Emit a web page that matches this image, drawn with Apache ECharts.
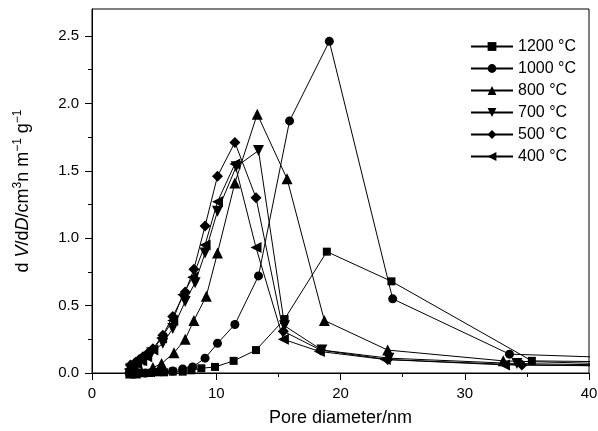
<!DOCTYPE html>
<html>
<head>
<meta charset="utf-8">
<script src="https://cdn.jsdelivr.net/npm/echarts@6/dist/echarts.min.js"></script>
<style>
  html, body { margin: 0; padding: 0; background: #fff; }
  #chart { width: 598px; height: 431px; }
</style>
</head>
<body>
<div id="chart"></div>
<script>
// pore diameter (nm) and dV/dD for each calcination temperature
const names = ['1200 °C', '1000 °C', '800 °C', '700 °C', '500 °C', '400 °C'];

const x1200 = [3.0, 3.3, 3.7, 4.1, 4.6, 5.2, 5.8, 6.5, 7.3, 8.0, 8.8, 9.9, 11.4, 13.2, 15.5, 18.9, 24.1, 35.4, 45];
const y1200 = [0.0, 0.0, 0.0, 0.0, 0.0, 0.005, 0.005, 0.01, 0.01, 0.02, 0.035, 0.045, 0.09, 0.17, 0.40, 0.90, 0.68, 0.09, 0.08];

const x1000 = [3.0, 3.4, 3.8, 4.3, 4.9, 5.6, 6.5, 7.3, 8.1, 9.1, 10.1, 11.5, 13.4, 15.9, 19.1, 24.2, 33.6, 45];
const y1000 = [0.0, 0.0, 0.0, 0.0, 0.005, 0.01, 0.015, 0.03, 0.045, 0.11, 0.22, 0.36, 0.72, 1.87, 2.46, 0.55, 0.14, 0.105];

const x800 = [3.1, 3.5, 4.0, 4.9, 5.6, 6.6, 7.5, 8.2, 9.2, 10.1, 11.5, 13.3, 15.7, 18.7, 23.8, 33.1, 45];
const y800 = [0.0, 0.0, 0.01, 0.04, 0.07, 0.15, 0.25, 0.39, 0.57, 0.89, 1.41, 1.92, 1.44, 0.39, 0.17, 0.09, 0.06];

const x700 = [3.1, 3.4, 3.8, 4.2, 4.8, 5.7, 6.5, 7.5, 8.3, 9.1, 10.1, 11.6, 13.4, 15.5, 18.5, 23.9, 34.2, 45];
const y700 = [0.03, 0.05, 0.07, 0.09, 0.15, 0.22, 0.33, 0.53, 0.67, 0.89, 1.20, 1.53, 1.65, 0.35, 0.17, 0.11, 0.07, 0.055];

const x500 = [3.1, 3.5, 3.8, 4.1, 4.4, 4.9, 5.7, 6.5, 7.5, 8.2, 9.1, 10.1, 11.5, 13.2, 15.4, 18.4, 23.8, 34.6, 45];
const y500 = [0.06, 0.08, 0.10, 0.12, 0.14, 0.18, 0.28, 0.42, 0.60, 0.77, 1.09, 1.46, 1.71, 1.30, 0.31, 0.17, 0.10, 0.06, 0.05];

const x400 = [3.0, 3.3, 3.6, 4.0, 4.4, 4.9, 5.6, 6.5, 7.3, 8.1, 9.1, 10.1, 11.5, 13.2, 15.4, 18.3, 23.6, 33.2, 45];
const y400 = [0.03, 0.05, 0.07, 0.09, 0.12, 0.17, 0.26, 0.39, 0.58, 0.71, 0.95, 1.27, 1.55, 0.93, 0.25, 0.16, 0.10, 0.06, 0.05];

const yMajor = [0, 0.5, 1.0, 1.5, 2.0, 2.5];
const yMinor = [0.25, 0.75, 1.25, 1.75, 2.25];

const xs = [x1200, x1000, x800, x700, x500, x400];
const ys = [y1200, y1000, y800, y700, y500, y400];
const symbols = ['rect', 'circle', 'triangle', 'triangle', 'diamond', 'triangle'];
const rotations = [0, 0, 0, 180, 0, 90];
const sizes = [8, 9, 11, 11, 11, 11];

const font = 'Liberation Sans, Arial, Helvetica, sans-serif';

const chart = echarts.init(document.getElementById('chart'));

const series = names.map((name, k) => ({
  name: name,
  type: 'line',
  data: xs[k].map((x, i) => [x, ys[k][i]]),
  symbol: symbols[k],
  symbolRotate: rotations[k],
  symbolSize: sizes[k],
  showAllSymbol: true,
  clip: true,
  lineStyle: { color: '#000', width: 1 },
  itemStyle: { color: '#000', borderWidth: 0 },
  emphasis: { disabled: true },
  animation: false
}));

chart.setOption({
  animation: false,
  backgroundColor: '#fff',
  textStyle: { fontFamily: font },
  grid: {
    left: 92, right: 9, top: 9, bottom: 58,
    outerBoundsMode: 'none',
    show: true, borderColor: '#000', borderWidth: 1
  },
  legend: {
    orient: 'vertical',
    left: 465,
    top: 33,
    itemWidth: 42,
    itemHeight: 11,
    itemGap: 5,
    data: names,
    textStyle: { fontFamily: font, fontSize: 16, color: '#000', lineHeight: 17 }
  },
  xAxis: {
    type: 'value',
    min: 0, max: 40, interval: 10,
    name: 'Pore diameter/nm',
    nameLocation: 'middle',
    nameGap: 36,
    nameTextStyle: { fontFamily: font, fontSize: 18, color: '#000' },
    axisLine: { lineStyle: { color: '#000', width: 1 } },
    axisTick: { inside: false, length: 7, lineStyle: { color: '#000' } },
    minorTick: { show: true, splitNumber: 2, length: 4, lineStyle: { color: '#000' } },
    axisLabel: { fontFamily: font, fontSize: 15, color: '#000', margin: 13 },
    splitLine: { show: false }
  },
  yAxis: [{
    type: 'value',
    min: 0, max: 2.7,
    name: '{a|d }{i|V}{a|/d}{i|D}{a|/cm}{s|3}{a|n m}{s|−1}{a| g}{s|−1}',
    nameLocation: 'middle',
    nameGap: 58,
    nameTextStyle: {
      fontFamily: font, fontSize: 18, color: '#000',
      rich: {
        a: { fontFamily: font, fontSize: 18, color: '#000', lineHeight: 22 },
        i: { fontFamily: font, fontSize: 18, color: '#000', fontStyle: 'italic', lineHeight: 22 },
        s: { fontFamily: font, fontSize: 12, color: '#000', verticalAlign: 'top', lineHeight: 12 }
      }
    },
    axisLine: { show: true, lineStyle: { color: '#000', width: 1 } },
    axisTick: { show: true, inside: false, length: 7, customValues: yMajor, lineStyle: { color: '#000' } },
    axisLabel: {
      fontFamily: font, fontSize: 15, color: '#000', margin: 13,
      customValues: yMajor,
      formatter: v => v.toFixed(1)
    },
    splitLine: { show: false }
  }, {
    type: 'value',
    position: 'left',
    offset: 0,
    min: 0, max: 2.7,
    axisLine: { show: false },
    axisTick: { show: true, inside: false, length: 4, customValues: yMinor, lineStyle: { color: '#000' } },
    axisLabel: { show: false },
    splitLine: { show: false }
  }],
  series: series
});
</script>
</body>
</html>
